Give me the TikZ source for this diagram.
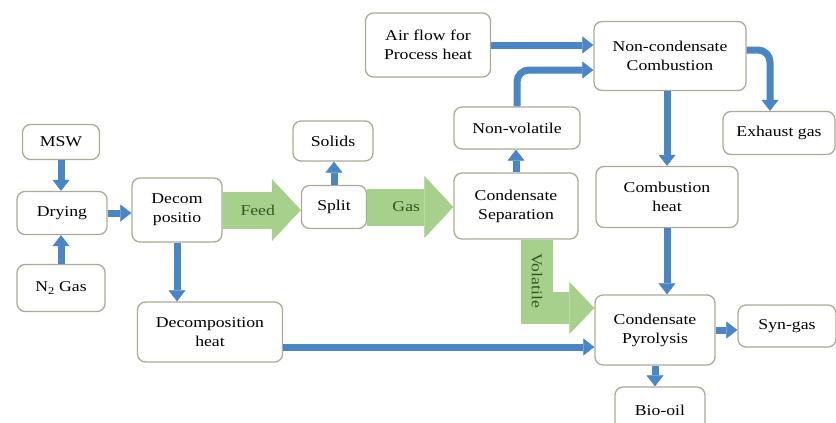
\documentclass[tikz,border=0pt]{standalone}
\usepackage{fontspec}
\setmainfont{Liberation Serif}[FakeStretch=1.18]
\usepackage{tikz}
\usetikzlibrary{arrows.meta}
\definecolor{flowblue}{RGB}{74,134,198}
\definecolor{feedgreen}{RGB}{168,208,141}
\definecolor{textgreen}{RGB}{50,85,30}
\definecolor{boxline}{RGB}{170,170,150}

\begin{document}
\begin{tikzpicture}[x=1pt,y=-1pt,
  box/.style={draw=boxline,line width=1.3pt,rounded corners=8pt,fill=white,align=center,inner sep=2pt,font=\fontsize{15}{19}\selectfont},
  flow/.style={draw=flowblue,line width=7pt,-{Triangle[width=17pt,length=11pt,line width=0.5pt]}},
  bigflow/.style={draw=feedgreen,line width=37pt,-{Triangle[width=62pt,length=29pt,line width=0.5pt]}},
  lbl/.style={text=textgreen,font=\fontsize{15}{19}\selectfont}]

  \useasboundingbox (0,0) rectangle (836,423);

  \node[box,minimum width=77pt,minimum height=35pt]  (msw)    at (61,142)  {MSW};
  \node[box,minimum width=90pt,minimum height=43pt]  (dry)    at (62,213)  {Drying};
  \node[box,minimum width=88pt,minimum height=47pt]  (n2)     at (61,288)  {N\textsubscript{2} Gas};
  \node[box,minimum width=90pt,minimum height=64pt]  (decom)  at (177,210) {Decom\\positio};
  \node[box,minimum width=145pt,minimum height=60pt] (dheat)  at (210,332) {Decomposition\\heat};
  \node[box,minimum width=80pt,minimum height=40pt]  (solids) at (333,141) {Solids};
  \node[box,minimum width=65pt,minimum height=43pt]  (split)  at (334,207) {Split};
  \node[box,minimum width=124pt,minimum height=66pt] (csep)   at (516,206) {Condensate\\Separation};
  \node[box,minimum width=126pt,minimum height=42pt] (nonvol) at (517,128) {Non-volatile};
  \node[box,minimum width=125pt,minimum height=64pt] (air)    at (428,45)  {Air flow for\\Process heat};
  \node[box,minimum width=152pt,minimum height=69pt] (ncomb)  at (670,56)  {Non-condensate\\Combustion};
  \node[box,minimum width=112pt,minimum height=43pt] (exh)    at (779,133) {Exhaust gas};
  \node[box,minimum width=142pt,minimum height=61pt] (cheat)  at (667,197) {Combustion\\heat};
  \node[box,minimum width=120pt,minimum height=70pt] (cpyro)  at (655,330) {Condensate\\Pyrolysis};
  \node[box,minimum width=98pt,minimum height=42pt]  (syn)    at (787,326) {Syn-gas};
  \node[box,minimum width=90pt,minimum height=46pt]  (bio)    at (660,410) {Bio-oil};

  \draw[bigflow] (decom.east) -- (decom.east -| split.west) node[lbl,midway,xshift=-4pt] {Feed};
  \draw[bigflow] (split.east) -- (split.east -| csep.west) node[lbl,midway,xshift=-4pt] {Gas};
  \draw[bigflow,line width=32pt,-{Triangle[width=52pt,length=25pt,line width=0.5pt]}]
    ([xshift=21pt]csep.south) |- ([yshift=22pt]cpyro.west) node[lbl,pos=0.3,rotate=-90] {Volatile};

  \draw[flow] (msw.south) -- (msw.south |- dry.north);
  \draw[flow] (n2.north) -- (n2.north |- dry.south);
  \draw[flow] (dry.east) -- (dry.east -| decom.west);
  \draw[flow] (decom.south) -- (decom.south |- dheat.north);
  \draw[flow] ([yshift=-15pt]dheat.east) -- ([yshift=-15pt]dheat.east -| cpyro.west);
  \draw[flow] (split.north) -- (split.north |- solids.south);
  \draw[flow] (csep.north) -- (csep.north |- nonvol.south);
  \draw[flow,rounded corners=12pt] (nonvol.north) |- ([yshift=-14pt]ncomb.west);
  \draw[flow] (air.east) -- (air.east -| ncomb.west);
  \draw[flow,rounded corners=12pt] ([yshift=6pt]ncomb.east) -| ([xshift=-9pt]exh.north);
  \draw[flow] (cheat |- ncomb.south) -- (cheat.north);
  \draw[flow] (cheat.south) -- (cheat.south |- cpyro.north);
  \draw[flow] (cpyro.east) -- (cpyro.east -| syn.west);
  \draw[flow] (cpyro.south) -- (cpyro.south |- bio.north);
\end{tikzpicture}
\end{document}
